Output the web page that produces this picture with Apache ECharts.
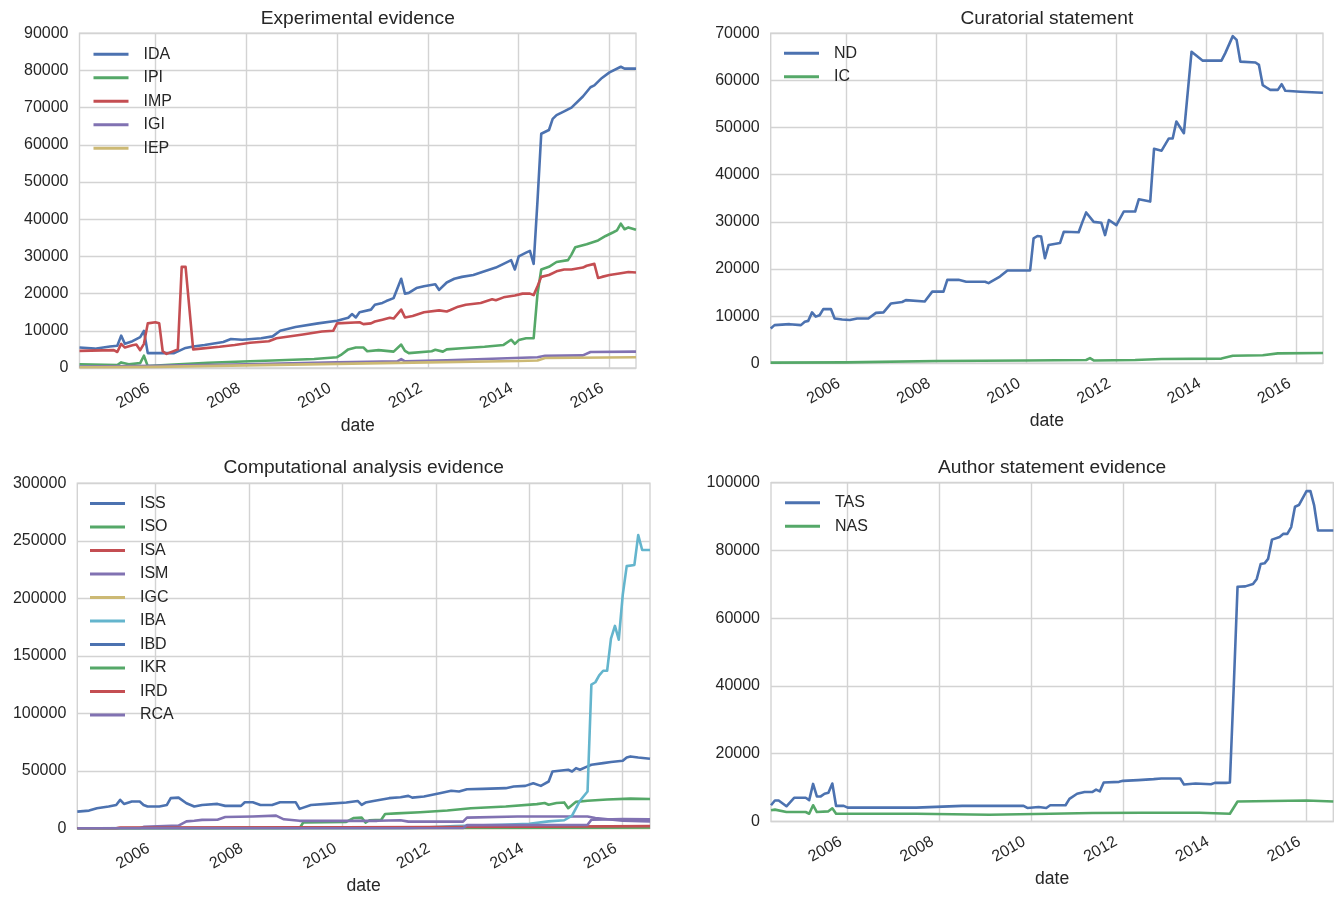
<!DOCTYPE html>
<html>
<head>
<meta charset="utf-8">
<title>Evidence codes over time</title>
<script src="https://cdn.jsdelivr.net/npm/echarts@6/dist/echarts.min.js"></script>
<style>
  html, body { margin: 0; padding: 0; background: #ffffff; }
  #chart { width: 1340px; height: 898px; }
</style>
</head>
<body>
<div id="chart"></div>
<script>
// ---- Monthly counts per evidence code, [month, count] vertices ----

// Experimental evidence
const IDA = [['2004-05',5500],['2004-09',5200],['2005-01',5800],['2005-03',6000],['2005-04',8700],['2005-05',6500],['2005-07',7200],['2005-09',8300],['2005-10',10000],['2005-11',4000],['2006-06',4000],['2006-09',5400],['2006-11',5800],['2007-02',6200],['2007-07',7000],['2007-09',7800],['2007-12',7600],['2008-05',8000],['2008-08',8500],['2008-10',10000],['2009-02',11000],['2009-08',12000],['2010-01',12700],['2010-04',13500],['2010-05',14500],['2010-06',13600],['2010-07',15000],['2010-10',15700],['2010-11',17000],['2011-01',17500],['2011-02',18000],['2011-04',18800],['2011-06',24000],['2011-07',20000],['2011-08',20200],['2011-10',21500],['2011-12',22000],['2012-03',22500],['2012-04',21000],['2012-06',23000],['2012-08',24000],['2012-10',24500],['2013-01',25000],['2013-04',26000],['2013-07',27000],['2013-09',28000],['2013-11',29000],['2013-12',26500],['2014-01',30000],['2014-03',31000],['2014-04',31500],['2014-05',28000],['2014-06',45000],['2014-07',63000],['2014-09',64000],['2014-10',67000],['2014-11',68000],['2015-01',69000],['2015-03',70000],['2015-06',73000],['2015-08',75500],['2015-09',76000],['2015-11',78000],['2016-01',79500],['2016-04',81000],['2016-05',80500],['2016-08',80500]];
const IPI = [['2004-05',1000],['2005-03',800],['2005-04',1500],['2005-06',1000],['2005-09',1300],['2005-10',3300],['2005-11',500],['2006-06',900],['2007-03',1400],['2008-02',1800],['2008-08',2000],['2009-07',2400],['2010-01',2900],['2010-02',3500],['2010-04',5000],['2010-06',5500],['2010-08',5500],['2010-09',4500],['2010-12',4800],['2011-04',4400],['2011-06',6300],['2011-07',4600],['2011-08',4000],['2012-02',4500],['2012-03',4900],['2012-05',4400],['2012-06',5000],['2012-10',5300],['2013-04',5700],['2013-09',6200],['2013-11',7600],['2013-12',6500],['2014-01',7500],['2014-03',8000],['2014-05',8000],['2014-06',20000],['2014-07',26500],['2014-09',27200],['2014-11',28500],['2015-02',29000],['2015-03',30500],['2015-04',32500],['2015-07',33300],['2015-10',34300],['2015-12',35500],['2016-02',36500],['2016-03',37000],['2016-04',38800],['2016-05',37300],['2016-06',37800],['2016-08',37200]];
const IMP = [['2004-05',4600],['2005-02',4800],['2005-03',4300],['2005-04',6500],['2005-05',5500],['2005-07',6100],['2005-08',6300],['2005-09',4800],['2005-10',6500],['2005-11',12000],['2006-01',12300],['2006-02',12000],['2006-03',4500],['2006-04',3800],['2006-05',4200],['2006-06',4600],['2006-07',5000],['2006-08',27200],['2006-09',27200],['2006-11',5000],['2007-01',5200],['2007-06',5700],['2007-10',6200],['2008-02',6800],['2008-07',7200],['2008-09',8000],['2009-04',9000],['2009-09',9800],['2009-12',10000],['2010-01',12000],['2010-07',12300],['2010-08',11800],['2010-10',12000],['2010-11',12500],['2011-01',13000],['2011-03',13500],['2011-04',13300],['2011-06',15700],['2011-07',13600],['2011-09',14000],['2011-12',15000],['2012-04',15500],['2012-06',15200],['2012-07',15600],['2012-09',16500],['2012-11',17000],['2013-03',17500],['2013-06',18500],['2013-07',18200],['2013-09',19000],['2013-12',19500],['2014-02',20000],['2014-04',20000],['2014-05',19600],['2014-06',22000],['2014-07',24500],['2014-09',25000],['2014-11',26000],['2015-01',26500],['2015-03',26500],['2015-06',27000],['2015-07',27500],['2015-09',28000],['2015-10',24200],['2015-11',24500],['2016-01',25000],['2016-04',25500],['2016-06',25800],['2016-08',25700]];
const IGI = [['2004-05',400],['2006-01',600],['2008-01',1000],['2010-01',1500],['2011-05',1800],['2011-06',2400],['2011-07',1800],['2012-06',2100],['2013-06',2500],['2014-06',2900],['2014-08',3300],['2015-06',3400],['2015-08',4300],['2016-08',4400]];
const IEP = [['2004-05',200],['2006-01',300],['2008-01',700],['2010-01',1100],['2012-01',1500],['2014-01',1900],['2014-06',2000],['2014-08',2700],['2016-08',2900]];

// Curatorial statement
const ND = [['2004-05',7400],['2004-06',8100],['2004-10',8300],['2005-01',8100],['2005-02',8800],['2005-03',9000],['2005-04',10800],['2005-05',9900],['2005-06',10200],['2005-07',11500],['2005-09',11500],['2005-10',9500],['2005-12',9300],['2006-02',9200],['2006-04',9500],['2006-07',9500],['2006-09',10700],['2006-11',10800],['2007-01',12700],['2007-04',13000],['2007-05',13400],['2007-10',13100],['2007-12',15200],['2008-03',15200],['2008-04',17700],['2008-07',17700],['2008-09',17300],['2009-02',17300],['2009-03',17000],['2009-06',18400],['2009-08',19700],['2010-02',19700],['2010-03',26500],['2010-04',27000],['2010-05',26900],['2010-06',22300],['2010-07',25100],['2010-10',25500],['2010-11',27900],['2011-03',27800],['2011-04',30000],['2011-05',32000],['2011-07',30000],['2011-09',29800],['2011-10',27200],['2011-11',30400],['2012-01',29300],['2012-03',32200],['2012-06',32200],['2012-07',34800],['2012-10',34300],['2012-11',45500],['2013-01',45100],['2013-03',47700],['2013-04',47700],['2013-05',51300],['2013-07',48800],['2013-09',66100],['2013-12',64200],['2014-05',64200],['2014-06',65800],['2014-08',69400],['2014-09',68600],['2014-10',64000],['2015-02',63800],['2015-03',63300],['2015-04',59000],['2015-05',58500],['2015-06',58000],['2015-08',58000],['2015-09',59200],['2015-10',57800],['2016-02',57600],['2016-08',57400]];
const IC = [['2004-05',150],['2006-01',200],['2008-01',500],['2010-01',600],['2011-05',700],['2011-06',1100],['2011-07',600],['2012-06',700],['2013-01',900],['2014-05',1000],['2014-08',1600],['2015-04',1700],['2015-08',2100],['2016-08',2200]];

// Computational analysis evidence
const ISS = [['2004-05',14500],['2004-08',15400],['2004-10',17400],['2005-01',18900],['2005-03',20300],['2005-04',24700],['2005-05',21200],['2005-07',23300],['2005-09',23300],['2005-10',20300],['2005-11',18900],['2006-02',18900],['2006-04',20300],['2006-05',26200],['2006-07',26700],['2006-09',21800],['2006-11',18900],['2007-01',20300],['2007-05',21200],['2007-07',19500],['2007-11',19500],['2007-12',22700],['2008-02',22700],['2008-04',20300],['2008-07',20300],['2008-09',22700],['2009-01',22700],['2009-02',16900],['2009-05',20300],['2009-09',21200],['2010-02',22400],['2010-05',23800],['2010-06',20300],['2010-07',22400],['2010-09',23800],['2011-01',26200],['2011-04',27000],['2011-06',28200],['2011-07',26700],['2011-10',27600],['2012-02',30500],['2012-05',32600],['2012-07',32000],['2012-09',34000],['2013-01',34300],['2013-07',34900],['2013-09',36300],['2013-12',36900],['2014-02',39200],['2014-04',36900],['2014-06',40700],['2014-07',49400],['2014-11',50900],['2014-12',49400],['2015-01',52300],['2015-02',50900],['2015-04',53800],['2015-05',55200],['2015-08',56700],['2015-10',57600],['2016-01',58700],['2016-02',61600],['2016-03',62500],['2016-05',61600],['2016-08',60500]];
const ISO = [['2004-05',0],['2009-02',0],['2009-03',5000],['2010-02',5500],['2010-04',9000],['2010-06',9300],['2010-07',5000],['2010-08',7000],['2010-11',7500],['2010-12',12500],['2011-03',13000],['2011-09',14000],['2012-04',15500],['2012-10',17500],['2013-07',19000],['2014-03',21000],['2014-05',22000],['2014-06',20500],['2014-08',22000],['2014-10',22500],['2014-11',17500],['2015-01',23000],['2015-04',24000],['2015-09',25000],['2016-03',25800],['2016-08',25500]];
const ISA = [['2004-05',0],['2005-03',0],['2005-04',400],['2010-01',700],['2014-01',1000],['2016-08',1400]];
const ISM = [['2004-05',0],['2005-09',0],['2005-10',1200],['2006-07',2300],['2006-09',6000],['2006-11',6500],['2007-01',7300],['2007-05',7500],['2007-07',9800],['2008-02',10300],['2008-08',11000],['2008-10',7800],['2009-02',6500],['2010-10',6500],['2011-04',7000],['2011-06',5800],['2012-08',5800],['2012-09',9300],['2013-10',10300],['2015-04',10300],['2015-06',9000],['2016-01',6500],['2016-08',6000]];
const IGC = [['2004-05',0],['2016-08',200]];
const IBA = [['2004-05',0],['2011-06',0],['2012-06',2000],['2013-06',3000],['2014-01',4000],['2014-06',6000],['2014-10',7000],['2014-12',11000],['2015-02',24000],['2015-04',32000],['2015-05',125000],['2015-06',127000],['2015-07',133000],['2015-08',137000],['2015-09',137000],['2015-10',165000],['2015-11',176000],['2015-12',164000],['2016-01',203000],['2016-02',228000],['2016-04',229000],['2016-05',255000],['2016-06',242000],['2016-08',242000]];
const IBD = [['2004-05',0],['2010-01',300],['2014-01',800],['2016-08',1500]];
const IKR = [['2004-05',0],['2012-01',200],['2016-08',800]];
const IRD = [['2004-05',0],['2005-03',100],['2005-04',500],['2010-01',900],['2014-01',1400],['2016-08',1900]];
const RCA = [['2004-05',0],['2012-08',0],['2012-09',2800],['2015-04',3000],['2015-05',7500],['2016-01',8000],['2016-08',7800]];

// Author statement evidence
const TAS = [['2004-05',4800],['2004-06',6200],['2004-07',6200],['2004-09',4500],['2004-11',7000],['2005-02',7000],['2005-03',6300],['2005-04',11100],['2005-05',7400],['2005-06',7400],['2005-07',8200],['2005-08',8500],['2005-09',11200],['2005-10',4600],['2005-12',4600],['2006-01',4100],['2007-07',4100],['2008-07',4600],['2009-11',4600],['2009-12',4000],['2010-03',4300],['2010-05',4000],['2010-06',4800],['2010-10',4800],['2010-11',6700],['2011-01',8200],['2011-03',8700],['2011-05',8700],['2011-06',9400],['2011-07',8900],['2011-08',11500],['2011-12',11700],['2012-01',12000],['2012-05',12200],['2012-09',12500],['2012-11',12700],['2013-04',12700],['2013-05',10900],['2013-08',11200],['2013-12',11000],['2014-01',11400],['2014-04',11400],['2014-05',11500],['2014-06',40000],['2014-07',69300],['2014-09',69400],['2014-11',70100],['2014-12',71600],['2015-01',76000],['2015-02',76200],['2015-03',77500],['2015-04',83200],['2015-06',84000],['2015-07',84900],['2015-08',84900],['2015-09',86900],['2015-10',92900],['2015-11',93400],['2016-01',97500],['2016-02',97500],['2016-03',93400],['2016-04',85900],['2016-08',85900]];
const NAS = [['2004-05',3300],['2004-06',3500],['2004-09',2800],['2005-02',2800],['2005-03',2300],['2005-04',4800],['2005-05',2800],['2005-08',3000],['2005-09',3900],['2005-10',2300],['2007-07',2300],['2009-02',2000],['2010-06',2300],['2011-05',2500],['2012-06',2600],['2013-09',2600],['2014-05',2300],['2014-07',5900],['2016-01',6200],['2016-08',5900]];

// Axis extents and labelled years
const X_START = '2004-05';
const X_END = '2016-08';
const TICK_YEARS = [2006, 2008, 2010, 2012, 2014, 2016];

// ---- Styling ----
const FONT = '"Liberation Sans", Arial, "DejaVu Sans", sans-serif';
const TEXT = '#262626';
const GRID = '#d3d3d3';
const COLORS = {
  blue: '#4C72B0', green: '#55A868', red: '#C44E52',
  purple: '#8172B2', yellow: '#CCB974', cyan: '#64B5CD'
};

// Month strings become millisecond timestamps on a numeric date axis
function monthStart(s) {
  const parts = s.split('-').map(Number);
  return Date.UTC(parts[0], parts[1] - 1, 1);
}
const yearTicks = TICK_YEARS.map(y => Date.UTC(y, 0, 1));

const panels = [
  {
    title: 'Experimental evidence',
    box: { left: 79.5, top: 33.3, width: 556.5, height: 334.7 },
    titleTop: 7.4, yMax: 90000, yStep: 10000,
    legendPos: { left: 93.5, top: 46.3 },
    lines: [['IDA', IDA, 'blue'], ['IPI', IPI, 'green'], ['IMP', IMP, 'red'], ['IGI', IGI, 'purple'], ['IEP', IEP, 'yellow']]
  },
  {
    title: 'Curatorial statement',
    box: { left: 770.7, top: 33.3, width: 552.3, height: 330 },
    titleTop: 7.4, yMax: 70000, yStep: 10000,
    legendPos: { left: 784, top: 45.3 },
    lines: [['ND', ND, 'blue'], ['IC', IC, 'green']]
  },
  {
    title: 'Computational analysis evidence',
    box: { left: 77.3, top: 483.3, width: 572.7, height: 345 },
    titleTop: 456.4, yMax: 300000, yStep: 50000,
    legendPos: { left: 90, top: 495.5 },
    lines: [['ISS', ISS, 'blue'], ['ISO', ISO, 'green'], ['ISA', ISA, 'red'], ['ISM', ISM, 'purple'], ['IGC', IGC, 'yellow'],
            ['IBA', IBA, 'cyan'], ['IBD', IBD, 'blue'], ['IKR', IKR, 'green'], ['IRD', IRD, 'red'], ['RCA', RCA, 'purple']]
  },
  {
    title: 'Author statement evidence',
    box: { left: 771, top: 482.7, width: 562.3, height: 338.8 },
    titleTop: 456.4, yMax: 100000, yStep: 20000,
    legendPos: { left: 785, top: 494.7 },
    lines: [['TAS', TAS, 'blue'], ['NAS', NAS, 'green']]
  }
];

const option = {
  animation: false,
  backgroundColor: '#ffffff',
  textStyle: { fontFamily: FONT },
  title: [], grid: [], xAxis: [], yAxis: [], legend: [], series: []
};

panels.forEach((p, i) => {
  option.title.push({
    text: p.title,
    left: p.box.left + p.box.width / 2,
    top: p.titleTop,
    textAlign: 'center',
    padding: 0,
    textStyle: { fontSize: 19.2, fontWeight: 'normal', color: TEXT, fontFamily: FONT, lineHeight: 22 }
  });
  option.grid.push(Object.assign({
    show: true, borderColor: GRID, borderWidth: 1.4, backgroundColor: '#ffffff'
  }, p.box));
  option.xAxis.push({
    type: 'value', gridIndex: i,
    min: monthStart(X_START), max: monthStart(X_END),
    name: 'date', nameLocation: 'middle', nameGap: 49,
    nameTextStyle: { fontSize: 17.6, color: TEXT, fontFamily: FONT },
    axisLine: { show: false },
    axisTick: { show: false, customValues: yearTicks },
    axisLabel: {
      customValues: yearTicks, rotate: 30, margin: 15, padding: [0, 8, 0, 0],
      fontSize: 16, color: TEXT, fontFamily: FONT,
      formatter: v => String(new Date(v).getUTCFullYear())
    },
    splitLine: { show: true, lineStyle: { color: GRID, width: 1.4 } }
  });
  option.yAxis.push({
    type: 'value', gridIndex: i, min: 0, max: p.yMax, interval: p.yStep,
    axisLine: { show: false }, axisTick: { show: false },
    axisLabel: { margin: 11, fontSize: 16, color: TEXT, fontFamily: FONT, formatter: v => String(v) },
    splitLine: { show: true, lineStyle: { color: GRID, width: 1.4 } }
  });
  option.legend.push({
    orient: 'vertical', left: p.legendPos.left, top: p.legendPos.top, padding: 0,
    itemGap: 7.5, itemWidth: 35, itemHeight: 3, icon: 'rect', selectedMode: false,
    data: p.lines.map(l => l[0]),
    textStyle: { fontSize: 16, color: TEXT, fontFamily: FONT, lineHeight: 16, padding: [0, 0, 0, 10] }
  });
  p.lines.forEach(([name, values, hue], k) => {
    option.series.push({
      type: 'line', name, xAxisIndex: i, yAxisIndex: i,
      data: values.map(([m, v]) => [monthStart(m), v]),
      showSymbol: false, symbol: 'none', silent: true,
      z: 2 + k * 0.01,
      lineStyle: { width: 2.6, color: COLORS[hue], join: 'round' },
      itemStyle: { color: COLORS[hue] },
      emphasis: { disabled: true }
    });
  });
});

const chart = echarts.init(document.getElementById('chart'), null, { renderer: 'canvas' });
chart.setOption(option);
</script>
</body>
</html>
